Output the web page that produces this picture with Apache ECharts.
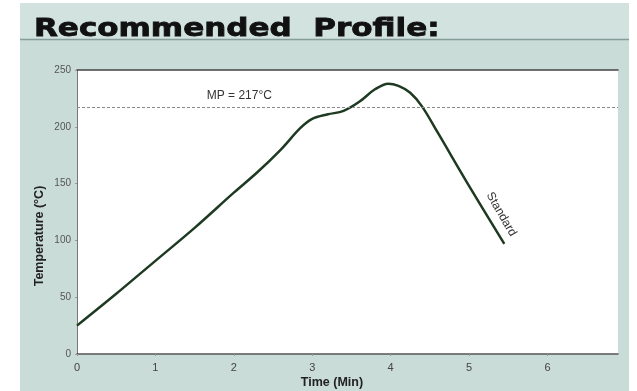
<!DOCTYPE html>
<html lang="en">
<head>
    <meta charset="utf-8">
    <title>Recommended Profile</title>
    <script src="https://cdn.jsdelivr.net/npm/echarts@6/dist/echarts.min.js"></script>
    <style type="text/css">
    html, body {
        margin: 0;
        padding: 0;
        background: #fff;
    }

    #chart {
        width: 637px;
        height: 391px;
    }
    </style>
</head>
<body>
    <div id="chart"></div>
    <script type="text/javascript">
    // profile: time (min) / temperature (°C)
    var times = [0, 0.5, 1, 1.5, 2, 2.3, 2.6, 2.85, 3.0, 3.2, 3.4, 3.6, 3.8, 3.97, 4.1, 4.25, 4.4, 4.6, 5.0, 5.45];
    var temps = [25, 53, 82, 111, 142, 160, 180, 199, 207, 211, 214, 222, 233, 238, 236, 230, 218, 195, 148, 97];
    var meltPoint = 217;
    var yTicks = [0, 50, 100, 150, 200, 250];
    var xTicks = [0, 1, 2, 3, 4, 5, 6];

    var profile = times.map(function (t, i) { return [t, temps[i]]; });

    var chart = echarts.init(document.getElementById('chart'), null, { renderer: 'canvas' });

    chart.setOption({
        backgroundColor: '#ffffff',
        animation: false,
        graphic: [
            // panel behind everything
            { type: 'rect', z: -10, shape: { x: 20, y: 3, width: 609, height: 388 }, style: { fill: '#c9dcd8' } },
            { type: 'rect', z: -9, shape: { x: 20, y: 3, width: 609, height: 36 }, style: { fill: '#d2e3df' } },
            { type: 'line', z: -8, shape: { x1: 20, y1: 39.5, x2: 629, y2: 39.5 }, style: { stroke: '#869d99', lineWidth: 1.5 } },
            {
                // wide heading, stretched to look like an extended face
                type: 'text', x: 34, y: 29, scaleX: 1.24,
                style: {
                    text: 'Recommended  Profile:', fontFamily: 'DejaVu Sans', fontWeight: 'bold',
                    fontSize: 25, fill: '#111', stroke: '#111', lineWidth: 0.8,
                    align: 'left', verticalAlign: 'middle'
                }
            },
            {
                type: 'text', x: 40, y: 236, rotation: Math.PI / 2,
                style: {
                    text: 'Temperature (°C)', fontFamily: 'Liberation Sans', fontWeight: 'bold',
                    fontSize: 12.5, fill: '#222', align: 'center', verticalAlign: 'middle'
                }
            },
            {
                type: 'text', x: 332, y: 383,
                style: {
                    text: 'Time (Min)', fontFamily: 'Liberation Sans', fontWeight: 'bold',
                    fontSize: 12.5, fill: '#222', align: 'center', verticalAlign: 'middle'
                }
            }
        ],
        grid: {
            left: 77,
            right: 19,
            top: 70,
            bottom: 37,
            show: true,
            borderWidth: 0,
            backgroundColor: '#ffffff'
        },
        xAxis: [{
            type: 'value',
            min: 0,
            max: 6.9,
            interval: 1,
            splitLine: { show: false },
            axisLine: { lineStyle: { color: '#555', width: 1.5 } },
            axisTick: { show: true, length: 2, lineStyle: { color: '#999' } },
            axisLabel: {
                showMaxLabel: false,
                color: '#444',
                fontFamily: 'Liberation Sans',
                fontSize: 11,
                margin: 8,
                formatter: function (v) { return xTicks.indexOf(v) >= 0 ? String(v) : ''; }
            }
        }, {
            type: 'value',
            position: 'top',
            min: 0,
            max: 6.9,
            axisLine: { show: true, onZero: false, lineStyle: { color: '#444', width: 1.5 } },
            axisTick: { show: false },
            axisLabel: { show: false },
            splitLine: { show: false }
        }],
        yAxis: {
            type: 'value',
            min: yTicks[0],
            max: yTicks[yTicks.length - 1],
            interval: 50,
            splitLine: { show: false },
            axisLine: { show: true, lineStyle: { color: '#777', width: 1 } },
            axisTick: { show: true, length: 2, lineStyle: { color: '#999' } },
            axisLabel: {
                color: '#555',
                fontFamily: 'Liberation Sans',
                fontSize: 10,
                margin: 6
            }
        },
        series: [{
            name: 'Standard',
            type: 'line',
            xAxisIndex: 0,
            data: profile,
            smooth: 0.35,
            symbol: 'none',
            lineStyle: { color: '#1f3a22', width: 2.5 },
            markLine: {
                silent: true,
                symbol: 'none',
                label: { show: false },
                lineStyle: { color: '#8a8a8a', type: [3, 2], width: 1 },
                data: [{ yAxis: meltPoint }]
            },
            markPoint: {
                silent: true,
                symbol: 'circle',
                symbolSize: 0,
                data: [{
                    coord: [2.07, 227],
                    label: {
                        show: true, position: 'inside', formatter: 'MP = ' + meltPoint + '°C',
                        fontFamily: 'Liberation Sans', fontSize: 12, color: '#333'
                    }
                }, {
                    coord: [5.41, 123],
                    label: {
                        show: true, position: 'inside', formatter: 'Standard', rotate: -60,
                        fontFamily: 'Liberation Sans', fontSize: 12, color: '#333'
                    }
                }]
            }
        }]
    });
    </script>
</body>
</html>
